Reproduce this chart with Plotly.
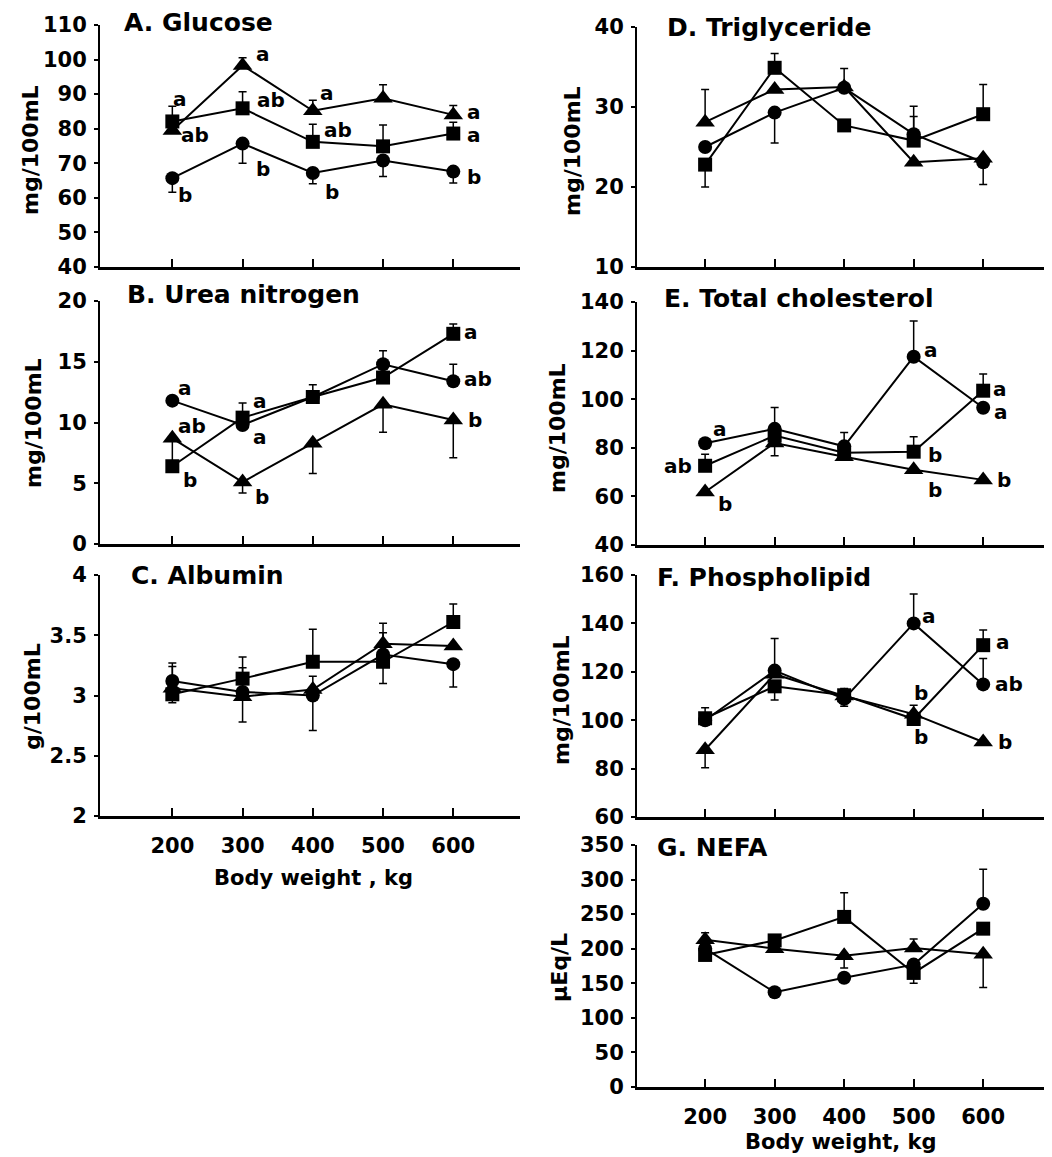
import plotly.graph_objects as go

# ---------------- data ----------------
X = [200, 300, 400, 500, 600]

# A. Glucose (mg/100mL)
GLU_CIR = [65.7, 75.7, 67.2, 70.8, 67.6]
GLU_CIR_UP = [0, 0, 0, 0, 0]
GLU_CIR_DN = [4.1, 5.7, 3.1, 4.6, 3.3]
GLU_SQ = [82.1, 85.9, 76.2, 74.9, 78.6]
GLU_SQ_UP = [4.4, 4.8, 5.1, 6.2, 3.3]
GLU_SQ_DN = [0, 0, 0, 0, 0]
GLU_TRI = [79.5, 98.3, 85.2, 88.8, 84.0]
GLU_TRI_UP = [0, 2.2, 3.0, 3.9, 2.7]
GLU_TRI_DN = [0, 0, 0, 0, 0]
GLU_LETTERS = [("sq", 0, "a", 8, 22), ("tri", 0, "ab", 23, -5), ("cir", 0, "b", 13, -17),
               ("tri", 1, "a", 20, 11), ("sq", 1, "ab", 28, 8), ("cir", 1, "b", 20, -25),
               ("tri", 2, "a", 14, 18), ("sq", 2, "ab", 25, 12), ("cir", 2, "b", 19, -19),
               ("tri", 4, "a", 21, 3), ("sq", 4, "a", 21, -1), ("cir", 4, "b", 21, -5)]

# B. Urea nitrogen (mg/100mL)
UN_CIR = [11.8, 9.8, 12.1, 14.8, 13.4]
UN_CIR_UP = [0, 0, 0, 1.1, 1.4]
UN_CIR_DN = [0, 0, 0, 0, 0]
UN_SQ = [6.4, 10.4, 12.1, 13.7, 17.3]
UN_SQ_UP = [0, 1.2, 1.0, 0, 0.8]
UN_SQ_DN = [0, 0, 0, 0, 0]
UN_TRI = [8.7, 5.1, 8.3, 11.5, 10.2]
UN_TRI_UP = [0, 0, 0, 0, 0]
UN_TRI_DN = [2.2, 0.9, 2.5, 2.3, 3.1]
UN_LETTERS = [("cir", 0, "a", 13, 13), ("tri", 0, "ab", 20, 12), ("sq", 0, "b", 18, -14),
              ("sq", 1, "a", 17, 17), ("cir", 1, "a", 17, -12), ("tri", 1, "b", 19, -15),
              ("sq", 4, "a", 18, 2), ("cir", 4, "ab", 25, 2), ("tri", 4, "b", 22, 0)]

# C. Albumin (g/100mL)
ALB_CIR = [3.12, 3.03, 3.0, 3.34, 3.26]
ALB_CIR_UP = [0.15, 0.2, 0, 0.18, 0]
ALB_CIR_DN = [0, 0, 0.29, 0, 0.19]
ALB_SQ = [3.01, 3.14, 3.28, 3.28, 3.61]
ALB_SQ_UP = [0, 0.18, 0.27, 0, 0.15]
ALB_SQ_DN = [0.07, 0, 0, 0.18, 0]
ALB_TRI = [3.06, 2.99, 3.05, 3.43, 3.41]
ALB_TRI_UP = [0.18, 0, 0.11, 0.17, 0]
ALB_TRI_DN = [0, 0.21, 0, 0, 0]
ALB_LETTERS = []

# D. Triglyceride (mg/100mL)
TG_CIR = [25.0, 29.3, 32.4, 26.6, 23.1]
TG_CIR_UP = [0, 0, 2.4, 3.5, 0]
TG_CIR_DN = [0, 3.8, 0, 0, 2.8]
TG_SQ = [22.8, 34.9, 27.7, 25.8, 29.1]
TG_SQ_UP = [0, 1.8, 0, 3.0, 3.7]
TG_SQ_DN = [2.8, 0, 0, 0, 0]
TG_TRI = [28.1, 32.2, 32.5, 23.1, 23.6]
TG_TRI_UP = [4.1, 0, 0, 0, 0]
TG_TRI_DN = [0, 0, 0, 0, 0]
TG_LETTERS = []

# E. Total cholesterol (mg/100mL)
TC_CIR = [81.9, 87.8, 80.6, 117.5, 96.5]
TC_CIR_UP = [0, 8.8, 5.7, 14.7, 0]
TC_CIR_DN = [0, 0, 0, 0, 0]
TC_SQ = [72.6, 85.0, 78.0, 78.4, 103.5]
TC_SQ_UP = [4.7, 0, 0, 6.1, 6.9]
TC_SQ_DN = [0, 0, 0, 0, 0]
TC_TRI = [61.8, 82.0, 76.3, 71.0, 66.8]
TC_TRI_UP = [0, 0, 0, 0, 0]
TC_TRI_DN = [0, 5.3, 0, 0, 0]
TC_LETTERS = [("cir", 0, "a", 15, 14), ("sq", 0, "ab", -27, 0), ("tri", 0, "b", 20, -12),
              ("cir", 3, "a", 17, 7), ("sq", 3, "b", 21, -3), ("tri", 3, "b", 21, -20),
              ("sq", 4, "a", 17, 2), ("cir", 4, "a", 18, -4), ("tri", 4, "b", 21, 0)]

# F. Phospholipid (mg/100mL)
PL_CIR = [100.0, 120.5, 108.8, 140.0, 114.8]
PL_CIR_UP = [0, 13.3, 0, 12.2, 10.7]
PL_CIR_DN = [0, 0, 3.0, 0, 0]
PL_SQ = [100.8, 114.0, 110.3, 100.5, 131.0]
PL_SQ_UP = [4.3, 0, 2.8, 0, 6.3]
PL_SQ_DN = [0, 5.7, 0, 0, 0]
PL_TRI = [87.8, 119.0, 110.0, 102.5, 91.0]
PL_TRI_UP = [0, 0, 0, 3.7, 0]
PL_TRI_DN = [7.5, 0, 0, 0, 0]
PL_LETTERS = [("cir", 3, "a", 15, 7), ("tri", 3, "b", 7, 21), ("sq", 3, "b", 7, -18),
              ("sq", 4, "a", 20, 3), ("cir", 4, "ab", 26, 0), ("tri", 4, "b", 22, 0)]

# G. NEFA (uEq/L)
NE_CIR = [200, 137, 158, 177, 265]
NE_CIR_UP = [0, 0, 0, 0, 50]
NE_CIR_DN = [0, 0, 0, 0, 0]
NE_SQ = [191, 212, 246, 165, 229]
NE_SQ_UP = [0, 0, 35, 0, 0]
NE_SQ_DN = [0, 0, 0, 15, 0]
NE_TRI = [213, 200, 190, 201, 192]
NE_TRI_UP = [10, 0, 0, 13, 0]
NE_TRI_DN = [0, 0, 18, 0, 48]
NE_LETTERS = []

# ---------------- layout helpers ----------------
# the page body has the browser's default 8px margin
OFF = 8
W, H = 1044, 1149
FONT = "DejaVu Sans"
SYM = {"cir": "circle", "sq": "square", "tri": "triangle-up"}
MSIZE = {"cir": 14, "sq": 14, "tri": 17}


def px(tx):
    return (tx - OFF) / W


def py(ty):
    return 1 - (ty - OFF) / H


panels = [
    dict(col=0, top=25, bot=267, rng=[40, 110], dtick=10, title="A. Glucose", tpos=(122, 23),
         ytitle="mg/100mL", ytpos=(30, 150), xlab=False,
         s={"cir": (GLU_CIR, GLU_CIR_UP, GLU_CIR_DN), "sq": (GLU_SQ, GLU_SQ_UP, GLU_SQ_DN),
            "tri": (GLU_TRI, GLU_TRI_UP, GLU_TRI_DN)}, letters=GLU_LETTERS),
    dict(col=0, top=301, bot=544, rng=[0, 20], dtick=5, title="B. Urea nitrogen", tpos=(125, 295),
         ytitle="mg/100mL", ytpos=(33, 423), xlab=False,
         s={"cir": (UN_CIR, UN_CIR_UP, UN_CIR_DN), "sq": (UN_SQ, UN_SQ_UP, UN_SQ_DN),
            "tri": (UN_TRI, UN_TRI_UP, UN_TRI_DN)}, letters=UN_LETTERS),
    dict(col=0, top=575, bot=816, rng=[2, 4], dtick=0.5, title="C. Albumin", tpos=(129, 575),
         ytitle="g/100mL", ytpos=(32, 697), xlab=True, xtitle="Body weight , kg", xtpos=(313, 878),
         s={"cir": (ALB_CIR, ALB_CIR_UP, ALB_CIR_DN), "sq": (ALB_SQ, ALB_SQ_UP, ALB_SQ_DN),
            "tri": (ALB_TRI, ALB_TRI_UP, ALB_TRI_DN)}, letters=ALB_LETTERS),
    dict(col=1, top=27, bot=267, rng=[10, 40], dtick=10, title="D. Triglyceride", tpos=(665, 27),
         ytitle="mg/100mL", ytpos=(572, 151), xlab=False,
         s={"cir": (TG_CIR, TG_CIR_UP, TG_CIR_DN), "sq": (TG_SQ, TG_SQ_UP, TG_SQ_DN),
            "tri": (TG_TRI, TG_TRI_UP, TG_TRI_DN)}, letters=TG_LETTERS),
    dict(col=1, top=302, bot=545, rng=[40, 140], dtick=20, title="E. Total cholesterol", tpos=(662, 298),
         ytitle="mg/100mL", ytpos=(557, 428), xlab=False,
         s={"cir": (TC_CIR, TC_CIR_UP, TC_CIR_DN), "sq": (TC_SQ, TC_SQ_UP, TC_SQ_DN),
            "tri": (TC_TRI, TC_TRI_UP, TC_TRI_DN)}, letters=TC_LETTERS),
    dict(col=1, top=575, bot=817, rng=[60, 160], dtick=20, title="F. Phospholipid", tpos=(655, 577),
         ytitle="mg/100mL", ytpos=(561, 700), xlab=False,
         s={"cir": (PL_CIR, PL_CIR_UP, PL_CIR_DN), "sq": (PL_SQ, PL_SQ_UP, PL_SQ_DN),
            "tri": (PL_TRI, PL_TRI_UP, PL_TRI_DN)}, letters=PL_LETTERS),
    dict(col=1, top=845, bot=1087, rng=[0, 350], dtick=50, title="G. NEFA", tpos=(655, 847),
         ytitle="μEq/L", ytpos=(559, 968), xlab=True, xtitle="Body weight, kg", xtpos=(841, 1142),
         s={"cir": (NE_CIR, NE_CIR_UP, NE_CIR_DN), "sq": (NE_SQ, NE_SQ_UP, NE_SQ_DN),
            "tri": (NE_TRI, NE_TRI_UP, NE_TRI_DN)}, letters=NE_LETTERS),
]

XDOM = [(px(100), px(520)), (px(637), 1.0)]
XRNG = [[97, 695], [102, 699]]

fig = go.Figure()
annotations = []

for i, p in enumerate(panels):
    n = i + 1
    xa = "x" if n == 1 else f"x{n}"
    ya = "y" if n == 1 else f"y{n}"
    for key in ["cir", "sq", "tri"]:
        vals, up, dn = p["s"][key]
        fig.add_trace(go.Scatter(
            x=X, y=vals, xaxis=xa, yaxis=ya, mode="lines+markers",
            line=dict(color="black", width=2),
            marker=dict(symbol=SYM[key], size=MSIZE[key], color="black"),
            error_y=dict(type="data", symmetric=False, array=up, arrayminus=dn,
                         color="black", thickness=1.5, width=4),
            cliponaxis=False, showlegend=False, hoverinfo="skip"))
    for key, idx, txt, dx, dy in p["letters"]:
        annotations.append(dict(x=X[idx], y=p["s"][key][0][idx], xref=xa, yref=ya,
                                text=txt, showarrow=False, xshift=dx, yshift=dy,
                                font=dict(family=FONT, size=20, color="black", weight="bold")))
    annotations.append(dict(x=px(p["tpos"][0]), y=py(p["tpos"][1]), xref="paper", yref="paper",
                            xanchor="left", yanchor="middle", text=p["title"], showarrow=False,
                            font=dict(family=FONT, size=25, color="black", weight="bold")))
    annotations.append(dict(x=px(p["ytpos"][0]), y=py(p["ytpos"][1]), xref="paper", yref="paper",
                            xanchor="center", yanchor="middle", text=p["ytitle"], textangle=-90,
                            showarrow=False,
                            font=dict(family=FONT, size=22, color="black", weight="bold")))
    if p["xlab"]:
        annotations.append(dict(x=px(p["xtpos"][0]), y=py(p["xtpos"][1]), xref="paper",
                                yref="paper", xanchor="center", yanchor="middle", text=p["xtitle"],
                                showarrow=False,
                                font=dict(family=FONT, size=21, color="black", weight="bold")))

    xkey = "xaxis" if n == 1 else f"xaxis{n}"
    ykey = "yaxis" if n == 1 else f"yaxis{n}"
    fig.update_layout({
        xkey: dict(domain=list(XDOM[p["col"]]), range=XRNG[p["col"]], anchor=ya,
                   tickvals=X, showticklabels=p["xlab"], ticks="inside", ticklen=8,
                   tickwidth=2, tickcolor="black", showline=True, linecolor="black",
                   linewidth=3, showgrid=False, zeroline=False, ticklabelstandoff=9,
                   automargin=False,
                   tickfont=dict(family=FONT, size=21, color="black", weight="bold")),
        ykey: dict(domain=[py(p["bot"]), py(p["top"])], range=p["rng"], anchor=xa,
                   dtick=p["dtick"], tick0=p["rng"][0], ticks="outside", ticklen=4,
                   tickwidth=1.5, tickcolor="black", showline=True, linecolor="black",
                   linewidth=2, showgrid=False, zeroline=False, ticklabelstandoff=3,
                   automargin=False,
                   tickfont=dict(family=FONT, size=21, color="black", weight="bold")),
    })

fig.update_layout(width=W, height=H, margin=dict(l=0, r=0, t=0, b=0, autoexpand=False),
                  paper_bgcolor="white", plot_bgcolor="white", annotations=annotations,
                  font=dict(family=FONT, color="black"))

fig.write_html("out.html")
